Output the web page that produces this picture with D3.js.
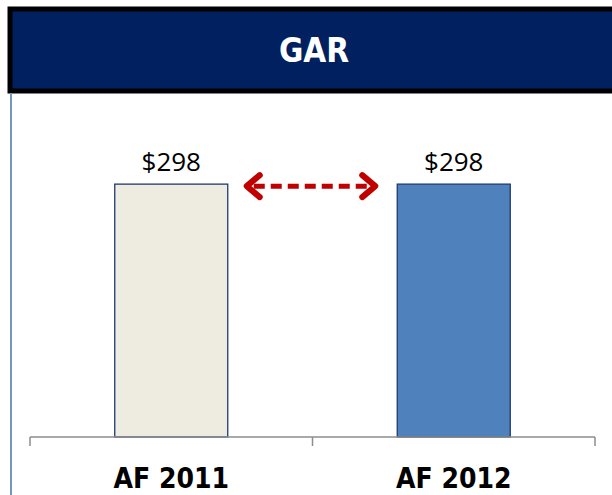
<!DOCTYPE html>
<html>
<head>
<meta charset="utf-8">
<script src="https://cdn.jsdelivr.net/npm/d3@7/dist/d3.min.js"></script>
<style>
  html, body { margin: 0; padding: 0; background: #fff; }
  svg { display: block; }
</style>
</head>
<body>
<div id="chart"></div>
<script>
  var title = "GAR";
  var categories = ["AF 2011", "AF 2012"];
  var values = [298, 298];
  var valueLabels = ["$298", "$298"];
  var barColors = ["#eeece1", "#4f81bd"];

  var width = 612, height = 495;

  var svg = d3.select("#chart").append("svg")
    .attr("width", width)
    .attr("height", height);

  // Title banner
  svg.append("rect")
    .attr("x", 10).attr("y", 9)
    .attr("width", 620).attr("height", 82)
    .attr("fill", "#002060")
    .attr("stroke", "#000")
    .attr("stroke-width", 5);

  svg.append("text")
    .attr("x", 314).attr("y", 62)
    .attr("text-anchor", "middle")
    .attr("font-family", "DejaVu Sans Condensed, DejaVu Sans, sans-serif")
    .attr("font-weight", "bold")
    .attr("font-size", "33px")
    .attr("fill", "#fff")
    .text(title);

  // Left frame line
  svg.append("line")
    .attr("x1", 11).attr("x2", 11)
    .attr("y1", 93).attr("y2", 495)
    .attr("stroke", "#7896bd")
    .attr("stroke-width", 2);

  var x = d3.scaleBand()
    .domain(categories)
    .range([30, 595])
    .paddingInner(0)
    .paddingOuter(0);

  var y = d3.scaleLinear()
    .domain([0, 350])
    .range([437, 140]);

  var barW = x.bandwidth() * 0.4;

  // Bars
  svg.selectAll(".bar")
    .data(values)
    .enter().append("rect")
    .attr("class", "bar")
    .attr("x", function (d, i) { return x(categories[i]) + x.bandwidth() / 2 - barW / 2; })
    .attr("y", function (d) { return y(d); })
    .attr("width", barW)
    .attr("height", function (d) { return y(0) - y(d); })
    .attr("fill", function (d, i) { return barColors[i]; })
    .attr("stroke", "#1f3a6e")
    .attr("stroke-width", 1.3);

  // Value labels
  svg.selectAll(".vlabel")
    .data(values)
    .enter().append("text")
    .attr("class", "vlabel")
    .attr("x", function (d, i) { return x(categories[i]) + x.bandwidth() / 2; })
    .attr("y", function (d) { return y(d) - 13; })
    .attr("text-anchor", "middle")
    .attr("font-family", "Open Sans, Liberation Sans, sans-serif")
    .attr("font-size", "26px")
    .attr("fill", "#000")
    .text(function (d, i) { return valueLabels[i]; });

  // X axis
  var axisG = svg.append("g");
  axisG.append("line")
    .attr("x1", 30).attr("x2", 595)
    .attr("y1", y(0)).attr("y2", y(0))
    .attr("stroke", "#8c8c8c").attr("stroke-width", 1.5);
  var tickXs = categories.map(function (c) { return x(c); }).concat([x.range()[1]]);
  axisG.selectAll(".tick")
    .data(tickXs)
    .enter().append("line")
    .attr("x1", function (d) { return d; }).attr("x2", function (d) { return d; })
    .attr("y1", y(0)).attr("y2", y(0) + 9)
    .attr("stroke", "#8c8c8c").attr("stroke-width", 1.5);

  axisG.selectAll(".clabel")
    .data(categories)
    .enter().append("text")
    .attr("x", function (d) { return x(d) + x.bandwidth() / 2; })
    .attr("y", 488)
    .attr("text-anchor", "middle")
    .attr("font-family", "DejaVu Sans Condensed, DejaVu Sans, sans-serif")
    .attr("font-weight", "bold")
    .attr("font-size", "28px")
    .attr("fill", "#000")
    .text(function (d) { return d; });

  // Red dashed double arrow between bars
  var arrowY = y(values[0]) + 2;
  var ax1 = x(categories[0]) + x.bandwidth() / 2 + barW / 2 + 16;
  var ax2 = x(categories[1]) + x.bandwidth() / 2 - barW / 2 - 19;
  var red = "#c00000";
  svg.append("line")
    .attr("x1", ax1 + 10).attr("x2", ax2 - 10)
    .attr("y1", arrowY).attr("y2", arrowY)
    .attr("stroke", red).attr("stroke-width", 5)
    .attr("stroke-dasharray", "11,6");
  svg.append("path")
    .attr("d", "M" + (ax1 + 16) + "," + (arrowY - 11) + "L" + (ax1 + 3) + "," + arrowY + "L" + (ax1 + 16) + "," + (arrowY + 11))
    .attr("fill", "none").attr("stroke", red).attr("stroke-width", 6)
    .attr("stroke-linejoin", "round").attr("stroke-linecap", "round");
  svg.append("path")
    .attr("d", "M" + (ax2 - 16) + "," + (arrowY - 11) + "L" + (ax2 - 3) + "," + arrowY + "L" + (ax2 - 16) + "," + (arrowY + 11))
    .attr("fill", "none").attr("stroke", red).attr("stroke-width", 6)
    .attr("stroke-linejoin", "round").attr("stroke-linecap", "round");
</script>
</body>
</html>
